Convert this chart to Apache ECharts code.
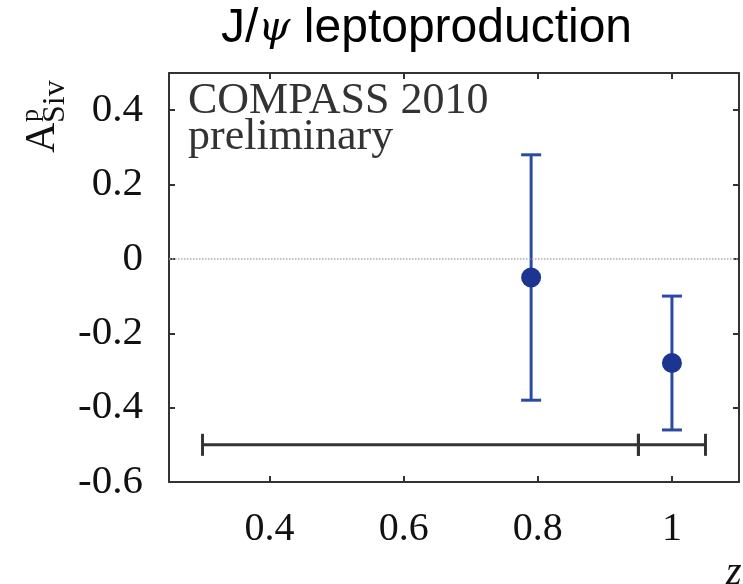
<!DOCTYPE html>
<html>
<head>
<meta charset="utf-8">
<script src="https://cdn.jsdelivr.net/npm/echarts@6/dist/echarts.min.js"></script>
<style>html,body{margin:0;padding:0;background:#fff}#c{width:743px;height:584px}</style>
</head>
<body>
<div id="c"></div>
<script>
var xTicks = [0.4, 0.6, 0.8, 1.0];
var yTicks = [-0.6, -0.4, -0.2, 0, 0.2, 0.4];
var pointX = [0.79, 1.0];
var pointY = [-0.05, -0.28];
var errLow = [-0.38, -0.46];
var errHigh = [0.28, -0.10];
var binEdges = [0.30, 0.95, 1.05];
var binY = -0.5;

var pts = pointX.map(function (x, i) { return [x, pointY[i]]; });
var errs = pointX.map(function (x, i) { return [x, errLow[i], errHigh[i]]; });
var bins = [];
for (var i = 0; i < binEdges.length - 1; i++) bins.push([binEdges[i], binEdges[i + 1], binY]);

var serif = 'Liberation Serif';
var chart = echarts.init(document.getElementById('c'));
var axCol = '#333';
function xAx(pos, showLabel) {
  return {
    type: 'value', position: pos, min: 0.25, max: 1.1,
    axisLine: { show: true, onZero: false, lineStyle: { color: axCol, width: 2 } },
    axisTick: { show: true, inside: true, length: 6, customValues: xTicks, lineStyle: { color: axCol, width: 2 } },
    axisLabel: { show: showLabel, customValues: xTicks, margin: 27, color: '#111', fontFamily: serif, fontSize: 40 },
    splitLine: { show: false }
  };
}
function yAx(pos, showLabel) {
  return {
    type: 'value', position: pos, min: -0.6, max: 0.5,
    axisLine: { show: true, onZero: false, lineStyle: { color: axCol, width: 2 } },
    axisTick: { show: true, inside: true, length: 6, customValues: yTicks, lineStyle: { color: axCol, width: 2 } },
    axisLabel: { show: showLabel, customValues: yTicks, margin: 26, color: '#111', fontFamily: serif, fontSize: 41 },
    splitLine: { show: false }
  };
}
chart.setOption({
  animation: false,
  grid: { left: 169, right: 4, top: 73, bottom: 102 },
  xAxis: [xAx('bottom', true), xAx('top', false)],
  yAxis: [yAx('left', true), yAx('right', false)],
  graphic: [
    { type: 'text', left: 188, top: 79, style: { text: 'COMPASS 2010\npreliminary', font: '44px "Liberation Serif"', fill: '#333', lineHeight: 36 } },
    { type: 'text', left: 221, top: 5, style: { rich: {
        n: { fontFamily: 'Liberation Sans', fontSize: 48, fill: '#000' },
        g: { fontFamily: 'DejaVu Serif', fontStyle: 'italic', fontSize: 41, fill: '#000' } },
        text: '{n|J/}{g|ψ}{n| leptoproduction}' } },
    { type: 'group', x: 22, y: 153, rotation: Math.PI / 2, originX: 0, originY: 0, children: [
      { type: 'text', x: 0, y: 0, style: { text: 'A', font: '42px "Liberation Serif"', fill: '#111' } },
      { type: 'text', x: 31, y: -4, style: { text: 'p', font: '26px "Liberation Serif"', fill: '#111' } },
      { type: 'text', x: 30, y: 18, style: { text: 'Siv', font: '32px "Liberation Serif"', fill: '#111' } }
    ] },
    { type: 'text', left: 726, top: 553, style: { text: 'z', font: 'italic 40px "Liberation Serif"', fill: '#111' } }
  ],
  series: [
    {
      type: 'custom', data: bins, z: 3, silent: true,
      renderItem: function (params, api) {
        var a = api.coord([api.value(0), api.value(2)]);
        var b = api.coord([api.value(1), api.value(2)]);
        var st = { stroke: '#333', lineWidth: 3 };
        return { type: 'group', children: [
          { type: 'line', shape: { x1: a[0], y1: a[1], x2: b[0], y2: b[1] }, style: st },
          { type: 'line', shape: { x1: a[0], y1: a[1] - 11, x2: a[0], y2: a[1] + 11 }, style: st },
          { type: 'line', shape: { x1: b[0], y1: b[1] - 11, x2: b[0], y2: b[1] + 11 }, style: st }
        ] };
      }
    },
    {
      type: 'custom', data: errs, z: 4, silent: true,
      renderItem: function (params, api) {
        var lo = api.coord([api.value(0), api.value(1)]);
        var hi = api.coord([api.value(0), api.value(2)]);
        var st = { stroke: '#2b4aa3', lineWidth: 3 };
        return { type: 'group', children: [
          { type: 'line', shape: { x1: lo[0], y1: lo[1], x2: hi[0], y2: hi[1] }, style: st },
          { type: 'line', shape: { x1: lo[0] - 10, y1: lo[1], x2: lo[0] + 10, y2: lo[1] }, style: st },
          { type: 'line', shape: { x1: hi[0] - 10, y1: hi[1], x2: hi[0] + 10, y2: hi[1] }, style: st }
        ] };
      }
    },
    {
      type: 'scatter', data: pts, z: 5, symbol: 'circle', symbolSize: 20,
      itemStyle: { color: '#1b3591', opacity: 1 },
      markLine: { silent: true, symbol: 'none', label: { show: false },
        lineStyle: { color: '#aaa', type: 'dotted', width: 1.5 },
        data: [{ yAxis: 0 }] }
    }
  ]
});
</script>
</body>
</html>
